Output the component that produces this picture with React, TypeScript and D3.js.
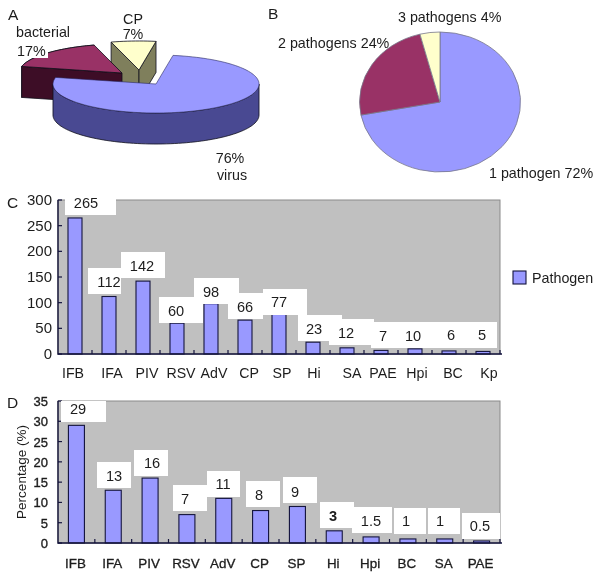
import React from "react";
import * as d3 from "d3";

// ---- data ----
const pieALabels = ["virus", "bacterial", "CP"];
const pieAValues = [76, 17, 7];
const pieBLabels = ["1 pathogen", "2 pathogens", "3 pathogens"];
const pieBValues = [72, 24, 4];

const catsC = ["IFB", "IFA", "PIV", "RSV", "AdV", "CP", "SP", "Hi", "SA", "PAE", "Hpi", "BC", "Kp"];
const valsC = [265, 112, 142, 60, 98, 66, 77, 23, 12, 7, 10, 6, 5];
const ticksC = [0, 50, 100, 150, 200, 250, 300];

const catsD = ["IFB", "IFA", "PIV", "RSV", "AdV", "CP", "SP", "Hi", "Hpi", "BC", "SA", "PAE"];
const valsD = [29, 13, 16, 7, 11, 8, 9, 3, 1.5, 1, 1, 0.5];
const ticksD = [0, 5, 10, 15, 20, 25, 30, 35];

// ---- layout and style, separate from the values ----
const FONT = "'Liberation Sans', Arial, sans-serif";
const INK = "#1c1c1c";
const BAR = "#9999ff";
const BAR_EDGE = "#14143c";
const PLOT = { left: 58, right: 500 };
const C = { top: 200, bottom: 354, max: 300, barW: 14 };
const D = { top: 401, bottom: 543, max: 35, barW: 16 };

// white label patches: x0, x1, y0, y1, text x, text baseline
const patchesC = [
  [65, 116, 199, 215, 86, 208], [88, 121, 268, 294, 109, 287], [121, 165, 252, 278, 142, 271],
  [159, 203, 297, 323, 176, 316], [194, 239, 278, 304, 211, 297], [228, 263, 293, 319, 245, 312],
  [263, 307, 289, 315, 279, 307], [298, 342, 315, 341, 314, 334], [329, 374, 319, 345, 346, 338],
  [371, 415, 322, 348, 383, 341], [400, 444, 322, 348, 413, 341], [438, 482, 322, 348, 451, 340],
  [453, 497, 322, 348, 482, 340],
];
const patchesD = [
  [61, 106, 401, 422, 78, 414], [97, 131, 462, 488, 114, 481], [134, 168, 450, 476, 152, 468],
  [173, 207, 485, 511, 185, 504], [207, 240, 471, 497, 223, 489], [246, 280, 481, 507, 259, 500],
  [283, 317, 477, 503, 295, 497], [320, 354, 502, 528, 333, 521], [352, 392, 507, 533, 371, 526],
  [394, 426, 508, 534, 406, 526], [428, 460, 508, 534, 440, 526], [462, 500, 513, 539, 480, 531],
];
const xShiftC = [-2, 3, 4, 4, 3, 4, 3, 1, 5, 2, 2, 4, 6];

const pieGen = d3.pie<number>().sort(null).startAngle(0);

// ---- 3D pie helpers (A) ----
const RX = 103, RY = 29, DEPTH = 31;
const pA = pieGen.endAngle(2 * Math.PI)(pieAValues);
const startA = (9.5 * Math.PI) / 180;
const ang = (a: number) => a + startA;
const pt = (cx: number, cy: number, a: number) => [cx + RX * Math.sin(a), cy - RY * Math.cos(a)];
const line = d3.line();

function arcPts(cx: number, cy: number, a0: number, a1: number) {
  const n = Math.max(2, Math.ceil(Math.abs(a1 - a0) / 0.04));
  return d3.range(n + 1).map((i) => pt(cx, cy, a0 + ((a1 - a0) * i) / n)) as [number, number][];
}
function topPath(cx: number, cy: number, a0: number, a1: number) {
  return line([[cx, cy], ...arcPts(cx, cy, a0, a1)])! + "Z";
}
function wallPath(cx: number, cy: number, a: number) {
  const [x, y] = pt(cx, cy, a);
  return line([[cx, cy], [x, y], [x, y + DEPTH], [cx, cy + DEPTH]])! + "Z";
}
function rimPath(cx: number, cy: number, a0: number, a1: number) {
  const t = arcPts(cx, cy, a0, a1);
  const b = t.map(([x, y]) => [x, y + DEPTH] as [number, number]).reverse();
  return line([...t, ...b])! + "Z";
}

const Pie3D = () => {
  const [v, b, c] = pA;
  const E = "#10101c";
  const vc = [156, 84], bc = [122, 73], cc = [139, 70];
  const PI = Math.PI;
  return (
    <g stroke={E} strokeWidth={0.8} strokeLinejoin="round">
      {/* CP */}
      <path d={wallPath(cc[0], cc[1], ang(c.startAngle))} fill="#7f7f5c" />
      <path d={wallPath(cc[0], cc[1], ang(c.endAngle))} fill="#7f7f5c" />
      <path d={topPath(cc[0], cc[1], ang(c.startAngle), ang(c.endAngle))} fill="#ffffcc" />
      {/* bacterial */}
      <path d={rimPath(bc[0], bc[1], ang(b.startAngle), ang(b.endAngle))} fill="#3d0a26" />
      <path d={wallPath(bc[0], bc[1], ang(b.startAngle))} fill="#3d0a26" />
      <path d={topPath(bc[0], bc[1], ang(b.startAngle), ang(b.endAngle))} fill="#993366" />
      {/* virus */}
      <path d={rimPath(vc[0], vc[1], PI / 2, 1.5 * PI)} fill="#4a4a92" />
      <path d={topPath(vc[0], vc[1], ang(v.startAngle), ang(v.endAngle))} fill={BAR} strokeWidth={0.6} stroke="#2a2a60" />
    </g>
  );
};

// ---- flat pie (B) ----
const PieB = () => {
  const slices = pieGen.endAngle(2 * Math.PI)(pieBValues);
  const arc = d3.arc<d3.PieArcDatum<number>>().innerRadius(0).outerRadius(1);
  const fills = [BAR, "#993366", "#ffffcc"];
  const rx = 80.5, ry = 70;
  return (
    <g transform={`translate(440,102) scale(${rx},${ry})`}>
      {slices.map((s, i) => (
        <path key={pieBLabels[i]} d={arc(s)!} fill={fills[i]} stroke="#77778a" strokeWidth={0.8} vectorEffect="non-scaling-stroke" />
      ))}
    </g>
  );
};

// ---- bars ----
type Spec = { top: number; bottom: number; max: number; barW: number };
const Bars = ({ cats, vals, ticks, spec, patches, xShift, yRight, yBold, xBase, boldIdx }: {
  cats: string[]; vals: number[]; ticks: number[]; spec: Spec; patches: number[][];
  xShift?: number[]; yRight: number; yBold?: boolean; xBase: number; boldIdx?: number;
}) => {
  const x = d3.scaleBand<string>().domain(cats).range([PLOT.left, PLOT.right]);
  const y = d3.scaleLinear().domain([0, spec.max]).range([spec.bottom, spec.top]);
  const w = x.bandwidth();
  return (
    <g fontFamily={FONT} fill={INK}>
      <rect x={PLOT.left} y={spec.top} width={PLOT.right - PLOT.left} height={spec.bottom - spec.top} fill="#c0c0c0" stroke="#8a8a8a" strokeWidth={1} />
      {cats.map((c, i) => (
        <rect key={c} x={x(c)! + w / 2 - spec.barW / 2} y={y(vals[i])} width={spec.barW} height={spec.bottom - y(vals[i])} fill={BAR} stroke={BAR_EDGE} strokeWidth={1.1} />
      ))}
      {cats.map((c) => (
        <path key={c} d={`M${x(c)! + w},${spec.bottom}v-4`} stroke={BAR_EDGE} strokeWidth={1.2} />
      ))}
      {ticks.map((t) => (
        <path key={t} d={`M${PLOT.left},${y(t)}h4`} stroke={BAR_EDGE} strokeWidth={1.2} />
      ))}
      <path d={`M${PLOT.left},${spec.top}V${spec.bottom}H${PLOT.right + 2}`} fill="none" stroke={BAR_EDGE} strokeWidth={1.4} />
      {patches.map((p, i) => (
        <rect key={i} x={p[0]} y={p[2]} width={p[1] - p[0]} height={p[3] - p[2]} fill="#fff" />
      ))}
      {patches.map((p, i) => (
        <text key={i} x={p[4]} y={p[5]} textAnchor="middle" fontSize={14.6} fontWeight={i === boldIdx ? 700 : 400}>{vals[i]}</text>
      ))}
      {ticks.map((t) => (
        <text key={t} x={yRight} y={y(t) + 5} textAnchor="end" fontSize={yBold ? 13 : 15} stroke={yBold ? INK : "none"} strokeWidth={yBold ? 0.35 : 0}>{t}</text>
      ))}
      {cats.map((c, i) => (
        <text key={c} x={x(c)! + w / 2 + (xShift ? xShift[i] : -1)} y={xBase} textAnchor="middle" fontSize={xShift ? 14.2 : 13.4} stroke={xShift ? "none" : INK} strokeWidth={xShift ? 0 : 0.3}>{c}</text>
      ))}
    </g>
  );
};

export default function App() {
  return (
    <svg width={600} height={577} viewBox="0 0 600 577" style={{ position: "absolute", left: 0, top: 0, background: "#fff" }}>
      <defs>
        <filter id="soft" x="-2%" y="-2%" width="104%" height="104%">
          <feGaussianBlur stdDeviation="0.4" />
        </filter>
      </defs>
      <g filter="url(#soft)">
        <Pie3D />
        <PieB />
        <Bars cats={catsC} vals={valsC} ticks={ticksC} spec={C} patches={patchesC} xShift={xShiftC} yRight={52} xBase={378} />
        <Bars cats={catsD} vals={valsD} ticks={ticksD} spec={D} patches={patchesD} yRight={48} yBold xBase={568} boldIdx={7} />
        <rect x={15} y={44} width={33} height={14} fill="#fff" />
        <g fontFamily={FONT} fill={INK} fontSize={14.3}>
          <text x={8} y={20} fontSize={15.5}>A</text>
          <text x={268} y={19} fontSize={15.5}>B</text>
          <text x={7} y={208} fontSize={15.5}>C</text>
          <text x={7} y={408} fontSize={15.5}>D</text>
          <text x={16} y={37}>{pieALabels[1]}</text>
          <text x={17} y={56}>{pieAValues[1]}%</text>
          <text x={133} y={24} textAnchor="middle">{pieALabels[2]}</text>
          <text x={133} y={39} textAnchor="middle">{pieAValues[2]}%</text>
          <text x={230} y={163} textAnchor="middle">{pieAValues[0]}%</text>
          <text x={232} y={180} textAnchor="middle">{pieALabels[0]}</text>
          <text x={398} y={22}>{pieBLabels[2]} {pieBValues[2]}%</text>
          <text x={278} y={48}>{pieBLabels[1]} {pieBValues[1]}%</text>
          <text x={489} y={178}>{pieBLabels[0]} {pieBValues[0]}%</text>
          <rect x={513} y={271} width={13} height={13} fill={BAR} stroke={BAR_EDGE} strokeWidth={1.1} />
          <text x={532} y={283}>Pathogen</text>
          <text transform="translate(26,472) rotate(-90)" textAnchor="middle" fontSize={13.5}>Percentage (%)</text>
        </g>
      </g>
    </svg>
  );
}
